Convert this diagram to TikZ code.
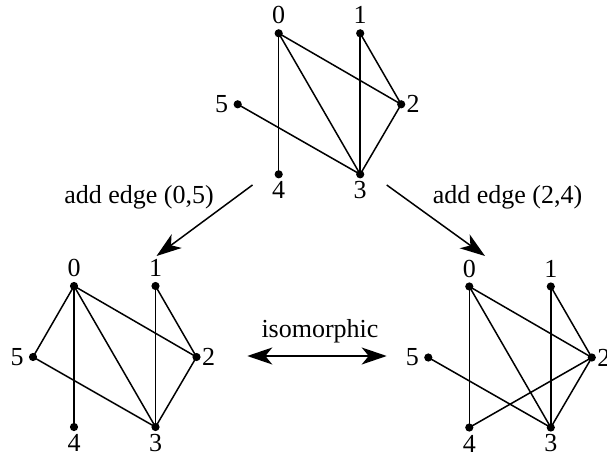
\documentclass[tikz,border=0pt]{standalone}
\usepackage{fontspec}
\setmainfont{Liberation Serif}
\usetikzlibrary{arrows.meta}
\begin{document}
\begin{tikzpicture}[x=1pt,y=-1pt,
  every node/.style={font=\fontsize{26}{29}\selectfont},
  vtx/.style={circle,fill=black,inner sep=0pt,minimum size=8.2pt},
  edge/.style={line width=1.5pt},
  bigarrow/.style={line width=1.5pt,-{Stealth[length=25pt,width=17pt,inset=7pt]}},
  dblarrow/.style={line width=1.5pt,{Stealth[length=25pt,width=17pt,inset=7pt]}-{Stealth[length=25pt,width=17pt,inset=7pt]}},
  lab/.style={inner sep=0pt}]
\useasboundingbox (0,0) rectangle (607,457);
\foreach \p/\ox/\oy in {T/278.7/33.3, L/74/286, R/469.3/286.5}{
  \begin{scope}[shift={(\ox,\oy)}]
    \node[vtx] (\p0) at (0,0) {};
    \node[vtx] (\p1) at (81.5,0) {};
    \node[vtx] (\p2) at (122.5,71) {};
    \node[vtx] (\p3) at (81.5,141) {};
    \node[vtx] (\p4) at (0,141) {};
    \node[vtx] (\p5) at (-41,71) {};
    \node[lab] (\p0t) at (0,-18) {0};
    \node[lab] (\p1t) at (81.5,-18) {1};
    \node[lab] (\p2t) at (134.5,71) {2};
    \node[lab] (\p3t) at (81.5,157) {3};
    \node[lab] (\p4t) at (0,157) {4};
    \node[lab] (\p5t) at (-57,71) {5};
  \end{scope}
}
% top graph
\draw[edge] (T0.center) -- (T4.center);
\draw[edge] (T0.center) -- (T3.center);
\draw[edge] (T0.center) -- (T2.center);
\draw[edge] (T1.center) -- (T3.center);
\draw[edge] (T1.center) -- (T2.center);
\draw[edge] (T2.center) -- (T3.center);
\draw[edge] (T5.center) -- (T3.center);
% left graph
\draw[edge] (L0.center) -- (L4.center);
\draw[edge] (L0.center) -- (L3.center);
\draw[edge] (L0.center) -- (L2.center);
\draw[edge] (L0.center) -- (L5.center);
\draw[edge] (L1.center) -- (L3.center);
\draw[edge] (L1.center) -- (L2.center);
\draw[edge] (L2.center) -- (L3.center);
\draw[edge] (L5.center) -- (L3.center);
% right graph
\draw[edge] (R0.center) -- (R4.center);
\draw[edge] (R0.center) -- (R3.center);
\draw[edge] (R0.center) -- (R2.center);
\draw[edge] (R1.center) -- (R3.center);
\draw[edge] (R1.center) -- (R2.center);
\draw[edge] (R2.center) -- (R3.center);
\draw[edge] (R2.center) -- (R4.center);
\draw[edge] (R5.center) -- (R3.center);
% arrows
\coordinate (a1s) at (252.5,185);
\coordinate (a1e) at (156.5,256);
\coordinate (a2s) at (386.7,185);
\coordinate (a2e) at (485,256);
\coordinate (a3s) at (247.3,356);
\coordinate (a3e) at (386.7,356);
\draw[bigarrow] (a1s) -- (a1e);
\draw[bigarrow] (a2s) -- (a2e);
\draw[dblarrow] (a3s) -- (a3e);
\node[lab] (t1) at (139,197) {add edge (0,5)};
\node[lab] (t2) at (507.5,197) {add edge (2,4)};
\node[lab] (t3) at (320,331) {isomorphic};
\end{tikzpicture}
\end{document}
